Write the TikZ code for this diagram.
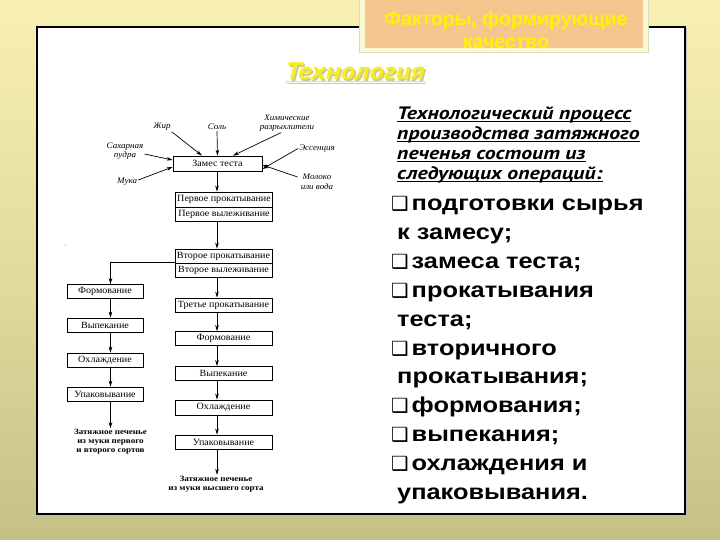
\documentclass[tikz,border=0pt]{standalone}
\usepackage{fontspec}
\setmainfont{Liberation Serif}
\newfontfamily\flowfont[FakeStretch=1.06]{Liberation Serif}
\newfontfamily\endfont[FakeStretch=1.13]{Liberation Serif}
\newfontfamily\arialfont[FakeStretch=1.18]{Liberation Sans}
\newfontfamily\headfont{Liberation Sans}
\newfontfamily\ptfont[FakeStretch=1.21]{PT Sans}
\newfontfamily\symfont{DejaVu Sans}
\usetikzlibrary{arrows.meta}
\definecolor{bgtop}{HTML}{F7F0B2}
\definecolor{bgmid}{HTML}{E2DC9C}
\definecolor{bgbot}{HTML}{C4C088}
\definecolor{peach}{HTML}{F5C68E}
\definecolor{cream}{HTML}{FCF9D6}
\definecolor{headyel}{HTML}{FFF400}
\definecolor{techyel}{HTML}{F4EE28}
\definecolor{techshadow}{HTML}{CFC98E}
\newcommand{\myul}[1]{\setbox0\hbox{#1}\rlap{\rule[-2.4pt]{\wd0}{1.2pt}}\box0}
\tikzset{
  arr/.style={line width=0.7pt, -{Stealth[length=6pt,width=3.6pt]}},
  fbox/.style={draw, line width=0.8pt, fill=white, inner sep=0pt,
    font=\flowfont\fontsize{9.5}{10}\selectfont},
  rbox/.style={fbox, minimum width=97pt, minimum height=14pt},
  lbox/.style={fbox, minimum width=76pt, minimum height=14pt},
  ingr/.style={font=\flowfont\itshape\fontsize{8.5}{9.5}\selectfont, align=center, inner sep=1pt},
  endtext/.style={font=\endfont\bfseries\fontsize{8}{9}\selectfont, align=center, inner sep=1pt},
  rline/.style={anchor=base west, inner sep=0pt, font=\arialfont\bfseries\fontsize{21.5}{26}\selectfont},
  hline/.style={anchor=base west, inner sep=0pt, font=\ptfont\bfseries\itshape\fontsize{18}{20}\selectfont},
}
\newcommand{\chk}{{\symfont\bfseries\fontsize{19.5}{24}\selectfont ❑}\hspace{3pt}}
\begin{document}
\begin{tikzpicture}[x=1pt,y=-1pt]
\useasboundingbox (0,0) rectangle (720,540);
% background
\shade[top color=bgtop, bottom color=bgbot, middle color=bgmid] (0,0) rectangle (720,540);
% panel
\fill[black!25] (38.5,28.5) rectangle (686.5,515.5);
\draw[line width=1.3pt, fill=white] (37,27) rectangle (685,514);
% header box
\fill[techshadow!70] (359,-2) rectangle (649,53);
\fill[cream] (360,-2) rectangle (648,52);
\fill[peach] (365,-2) rectangle (643,48);
\begin{scope}
\clip (365,-2) rectangle (643,48.5);
\node[inner sep=0pt, align=center, text=headyel, font=\headfont\bfseries\fontsize{19.5}{23}\selectfont, anchor=base] (head) at (506,48.5) {Факторы, формирующие\\качество};
\end{scope}
% Технология
\node[anchor=base, inner sep=0pt, text=techshadow, font=\ptfont\bfseries\itshape\fontsize{24}{26}\selectfont] (techsh) at (356.5,81.5) {\myul{Технология}};
\node[anchor=base, inner sep=0pt, text=techyel, font=\ptfont\bfseries\itshape\fontsize{24}{26}\selectfont] (tech) at (355,80) {\myul{Технология}};
% right heading
\node[hline] (h1) at (397,119.5) {\myul{Технологический процесс}};
\node[hline] (h2) at (397,139.5) {\myul{производства затяжного}};
\node[hline] (h3) at (397,159.5) {\myul{печенья состоит из}};
\node[hline] (h4) at (397,179.5) {\myul{следующих операций:}};
% bullet list
\node[rline] (r1) at (391,211) {\chk подготовки сырья};
\node[rline] (r2) at (397,239.8) {к замесу;};
\node[rline] (r3) at (391,268.6) {\chk замеса теста;};
\node[rline] (r4) at (391,297.4) {\chk прокатывания};
\node[rline] (r5) at (397,326.2) {теста;};
\node[rline] (r6) at (391,355) {\chk вторичного};
\node[rline] (r7) at (397,383.8) {прокатывания;};
\node[rline] (r8) at (391,412.6) {\chk формования;};
\node[rline] (r9) at (391,441.4) {\chk выпекания;};
\node[rline] (r10) at (391,470.2) {\chk охлаждения и};
\node[rline] (r11) at (397,499) {упаковывания.};
% stray dot
\fill[black!40] (65.5,245) circle (0.7);
% flowchart columns
\coordinate (cR) at (217,0);
\coordinate (cL) at (110.5,0);
% main boxes
\node[fbox, minimum width=89pt, minimum height=15pt] (zam) at (217.5,163.5) {Замес теста};
\node[rbox, minimum height=15pt] (p1a) at (224,199.5) {Первое прокатывание};
\node[rbox] (p1b) at (224,214) {Первое вылеживание};
\node[rbox] (p2a) at (223.5,256) {Второе прокатывание};
\node[rbox] (p2b) at (223.5,270) {Второе вылеживание};
\node[rbox] (p3) at (223.5,305) {Третье прокатывание};
\node[rbox] (rF) at (223.5,338.5) {Формование};
\node[rbox] (rV) at (223.5,373.5) {Выпекание};
\node[rbox, minimum height=15pt] (rO) at (223.5,407.5) {Охлаждение};
\node[rbox] (rU) at (223.5,442) {Упаковывание};
\node[endtext] (rEnd) at (216,484) {Затяжное печенье\\из муки высшего сорта};
% left column
\node[lbox] (lF) at (105,291.5) {Формование};
\node[lbox] (lV) at (105,325) {Выпекание};
\node[lbox] (lO) at (105,360) {Охлаждение};
\node[lbox] (lU) at (105,394) {Упаковывание};
\node[endtext] (lEnd) at (110.5,442) {Затяжное печенье\\из муки первого\\и второго сортов};
% ingredients
\node[ingr] (zhir) at (162,127) {Жир};
\node[ingr] (sol) at (217,127) {Соль};
\node[ingr] (chem) at (287,123) {Химические\\разрыхлители};
\node[ingr] (sah) at (125,151) {Сахарная\\пудра};
\node[ingr] (ess) at (317,148.5) {Эссенция};
\node[ingr] (muka) at (127,182) {Мука};
\node[ingr] (mol) at (317,182) {Молоко\\или вода};
% ingredient arrows
\draw[arr] (zhir.south east) -- ([xshift=-15.5pt]zam.north);
\draw[arr] (sol.south) -- (zam.north);
\draw[arr] ([xshift=-6pt]chem.south) -- ([xshift=15.5pt]zam.north);
\draw[arr] ([yshift=-3pt]sah.east) -- ([yshift=3.5pt]zam.west);
\draw[arr] (ess.west) -- ([yshift=-5.5pt]zam.east);
\draw[arr] ([yshift=2pt]muka.east) -- ([yshift=-3.5pt]zam.west);
\draw[arr] ([xshift=-2pt,yshift=5pt]mol.west) -- ([yshift=-1.5pt]zam.east);
% main flow arrows
\draw[arr] (zam.south -| cR) -- (p1a.north -| cR);
\draw[arr] (p1b.south -| cR) -- (p2a.north -| cR);
\draw[arr] (p2b.south -| cR) -- (p3.north -| cR);
\draw[arr] (p3.south -| cR) -- (rF.north -| cR);
\draw[arr] (rF.south -| cR) -- (rV.north -| cR);
\draw[arr] (rV.south -| cR) -- (rO.north -| cR);
\draw[arr] (rO.south -| cR) -- (rU.north -| cR);
\draw[arr] (rU.south -| cR) -- (rEnd.north -| cR);
% branch
\draw[arr] (p2b.north west) -| (lF.north -| cL);
\draw[arr] (lF.south -| cL) -- (lV.north -| cL);
\draw[arr] (lV.south -| cL) -- (lO.north -| cL);
\draw[arr] (lO.south -| cL) -- (lU.north -| cL);
\draw[arr] (lU.south -| cL) -- (lEnd.north -| cL);
\end{tikzpicture}
\end{document}
